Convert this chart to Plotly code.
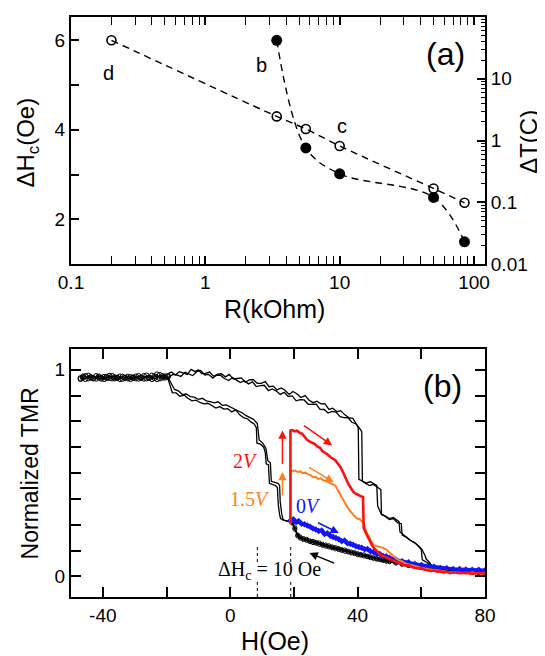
import plotly.graph_objects as go

# ---- panel (a) data ----
r_open = [0.2, 3.4, 5.6, 10, 50, 85]
dhc_open = [6.0, 4.30, 4.02, 3.64, 2.69, 2.37]
r_fill = [3.4, 5.6, 10, 50, 85]
dt_fill = [42, 0.76, 0.29, 0.12, 0.023]

r_ticks = [0.1, 1, 10, 100]
r_ticktext = ['0.1', '1', '10', '100']
r_minor = [0.2, 0.3, 0.4, 0.5, 0.6, 0.7, 0.8, 0.9, 2, 3, 4, 5, 6, 7, 8, 9,
           20, 30, 40, 50, 60, 70, 80, 90]
dt_ticks = [0.01, 0.1, 1, 10, 100]
dt_ticktext = ['0.01', '0.1', '1', '10', '100']
dt_minor = [0.02, 0.03, 0.04, 0.05, 0.06, 0.07, 0.08, 0.09, 0.2, 0.3, 0.4, 0.5, 0.6,
            0.7, 0.8, 0.9, 2, 3, 4, 5, 6, 7, 8, 9, 20, 30, 40, 50, 60, 70, 80, 90]
dhc_ticks = [1, 2, 3, 4, 5, 6]
dhc_ticktext = ['', '2', '', '4', '', '6']

# ---- panel (b) data ----
start_h = [-47, -46.2, -45.5, -44.6, -43.8, -43, -42.1, -41.3, -40.5, -39.6, -38.8, -38,
           -37.1, -36.3, -35.5, -34.6, -33.8, -33, -32.1, -31.3, -30.5, -29.6, -28.8,
           -28, -27.1, -26.3, -25.5, -24.6, -23.8, -23, -22.1, -21.3, -20.5, -19.6]
start_tmr1 = [0.96, 0.968, 0.955, 0.972, 0.962, 0.958, 0.97, 0.963, 0.957, 0.966, 0.96,
              0.971, 0.958, 0.964, 0.96, 0.955, 0.967, 0.962, 0.958, 0.965, 0.96, 0.968,
              0.957, 0.963, 0.97, 0.958, 0.962, 0.972, 0.96, 0.955, 0.975, 0.962, 0.968, 0.97]
start_tmr2 = [0.955, 0.962, 0.97, 0.958, 0.965, 0.96, 0.957, 0.968, 0.962, 0.955, 0.966,
              0.96, 0.97, 0.958, 0.962, 0.968, 0.956, 0.96, 0.967, 0.955, 0.963, 0.958,
              0.97, 0.96, 0.957, 0.973, 0.96, 0.955, 0.968, 0.978, 0.958, 0.97, 0.962, 0.965]

up1_h = [-19.6, -18.5, -17.2, -16, -14.8, -13.5, -12.3, -11, -10, -9, -7.8, -6.5, -5.2, -4,
         -2.8, -1.5, -0.3, 1, 2.2, 3.5, 4.7, 6, 7.2, 8.5, 9.7, 11, 12.2, 13.5, 14.7, 16,
         17.2, 18.5, 19.7, 21, 22.2, 23.5, 24.7, 26, 27.2, 28.5, 29.7, 31, 32.2, 33.5,
         34.7, 36, 37.2, 38.5, 39.5, 40.2, 40.4, 41.5, 42.7, 44, 45.2, 46, 46.3, 47.5,
         48.7, 50, 51.2, 52.5, 53, 53.3, 54.5, 55.7, 57, 58.2, 59.5, 60, 60.3, 61.5, 62.7,
         63.2, 64, 65.5, 67, 68.5, 70, 71.5, 73, 74.5, 76, 77.5, 79, 80]
up1_tmr = [0.98, 0.989, 0.975, 0.991, 0.985, 0.977, 1.002, 0.991, 1.0, 0.982, 0.983, 0.989,
           0.968, 0.979, 0.981, 0.966, 0.978, 0.955, 0.958, 0.961, 0.94, 0.951, 0.953,
           0.935, 0.934, 0.943, 0.918, 0.921, 0.903, 0.912, 0.901, 0.881, 0.895, 0.883,
           0.866, 0.875, 0.854, 0.841, 0.848, 0.835, 0.836, 0.808, 0.814, 0.797, 0.802,
           0.782, 0.769, 0.765, 0.74, 0.72, 0.47, 0.46, 0.452, 0.458, 0.445, 0.44, 0.34,
           0.3, 0.292, 0.28, 0.285, 0.27, 0.265, 0.215, 0.2, 0.185, 0.17, 0.16, 0.14, 0.13,
           0.08, 0.07, 0.06, 0.05, 0.04, 0.035, 0.03, 0.033, 0.027, 0.03, 0.025, 0.028,
           0.024, 0.027, 0.023, 0.025]

up2_h = [-19.6, -18, -16.8, -15.5, -14.2, -13, -11.8, -10.5, -9.3, -8, -6.8, -5.5, -4.3,
         -3, -1.8, -0.5, 0.7, 2, 3.2, 4.5, 5.7, 7, 8.2, 9.5, 10.7, 12, 13.2, 14.5, 15.7,
         17, 18.2, 19.5, 20.7, 22, 23.2, 24.5, 25.7, 27, 28.2, 29.5, 30.7, 32, 33.2, 34.5,
         35.7, 37, 38.2, 39.5, 40.7, 41.3, 41.5, 42.5, 43.7, 45, 46.2, 47.3, 47.5, 48.7,
         50, 51.2, 52.5, 53.7, 54, 55.2, 56.5, 57.7, 59, 60.2, 61.2, 61.5, 62.7, 63.5,
         64.5, 66, 67.5, 69, 70.5, 72, 73.5, 75, 76.5, 78, 80]
up2_tmr = [0.962, 0.978, 0.975, 0.968, 0.988, 0.979, 0.972, 0.991, 0.997, 0.975, 0.978,
           0.96, 0.974, 0.973, 0.958, 0.948, 0.963, 0.95, 0.938, 0.947, 0.932, 0.942,
           0.919, 0.923, 0.925, 0.899, 0.907, 0.897, 0.881, 0.891, 0.871, 0.874, 0.85,
           0.856, 0.854, 0.833, 0.833, 0.834, 0.809, 0.808, 0.791, 0.799, 0.795, 0.773,
           0.769, 0.768, 0.746, 0.738, 0.715, 0.7, 0.46, 0.45, 0.44, 0.445, 0.43, 0.42,
           0.3, 0.29, 0.275, 0.28, 0.26, 0.255, 0.2, 0.19, 0.175, 0.165, 0.15, 0.13, 0.1,
           0.085, 0.065, 0.045, 0.035, 0.03, 0.034, 0.026, 0.03, 0.024, 0.028, 0.022,
           0.026, 0.022, 0.024]

lo1_h = [-19.6, -19, -18.2, -17, -15.8, -14.5, -13.3, -12, -10.8, -9.5, -8.3, -7, -5.8,
         -4.5, -3.3, -2, -0.8, 0.5, 1.7, 3, 4.2, 5.5, 6.5, 7.5, 8.2, 8.4, 9.5, 10.5, 11,
         11.3, 12, 12.3, 13.2, 14.2, 14.8, 15.1, 15.5, 15.8, 16.7, 17.8, 18.9]
lo1_tmr = [0.96, 0.93, 0.89, 0.888, 0.872, 0.878, 0.862, 0.85, 0.853, 0.842, 0.835, 0.838,
           0.826, 0.815, 0.822, 0.81, 0.812, 0.796, 0.806, 0.782, 0.768, 0.762, 0.748,
           0.738, 0.72, 0.645, 0.64, 0.625, 0.6, 0.545, 0.54, 0.45, 0.445, 0.44, 0.43,
           0.345, 0.3, 0.28, 0.272, 0.27, 0.265]

lo2_h = [-19.6, -18.8, -17.5, -16.3, -15, -13.8, -12.5, -11.3, -10, -8.8, -7.5, -6.3, -5,
         -3.8, -2.5, -1.3, 0, 1.2, 2.5, 3.7, 5, 6.2, 7.3, 8.5, 8.9, 9.1, 10.2, 11.2, 11.8,
         12.6, 12.9, 14, 15, 15.5, 15.7, 16.2, 16.6, 17.5, 18.9]
lo2_tmr = [0.965, 0.94, 0.905, 0.898, 0.88, 0.883, 0.87, 0.868, 0.857, 0.862, 0.85, 0.846,
           0.84, 0.845, 0.828, 0.83, 0.82, 0.814, 0.8, 0.792, 0.778, 0.77, 0.76, 0.74, 0.7,
           0.66, 0.645, 0.62, 0.56, 0.55, 0.46, 0.455, 0.45, 0.44, 0.36, 0.3, 0.275,
           0.268, 0.262]

bot_h = [19.5, 20.3, 21.2, 22, 23, 24, 25, 26, 27, 28, 29, 30, 31, 32, 33, 34, 35, 36, 37,
         38, 39, 40, 41, 42, 43, 44, 45, 46, 47, 48, 49, 50, 52, 54, 56, 58, 60, 62, 64,
         66, 68, 70, 72, 74, 76, 78, 80]
bot1_tmr = [0.262, 0.235, 0.2, 0.19, 0.183, 0.18, 0.172, 0.17, 0.165, 0.162, 0.155, 0.152,
            0.148, 0.143, 0.14, 0.135, 0.13, 0.128, 0.122, 0.118, 0.115, 0.11, 0.106,
            0.104, 0.098, 0.095, 0.09, 0.087, 0.084, 0.08, 0.077, 0.074, 0.068, 0.062,
            0.055, 0.05, 0.045, 0.04, 0.036, 0.032, 0.03, 0.027, 0.025, 0.023, 0.022,
            0.02, 0.019]
bot2_tmr = [0.258, 0.228, 0.195, 0.185, 0.178, 0.174, 0.168, 0.163, 0.16, 0.155, 0.15,
            0.146, 0.142, 0.138, 0.133, 0.13, 0.125, 0.121, 0.118, 0.113, 0.11, 0.105,
            0.102, 0.098, 0.095, 0.09, 0.087, 0.083, 0.08, 0.077, 0.073, 0.07, 0.064,
            0.058, 0.052, 0.047, 0.042, 0.038, 0.034, 0.03, 0.028, 0.025, 0.023, 0.021,
            0.02, 0.018, 0.018]

blue_h = [18.9, 19.8, 20.7, 21.5, 22.4, 23.3, 24.2, 25.1, 26, 26.9, 27.8, 28.7, 29.6,
          30.5, 31.4, 32.3, 33.2, 34.1, 35, 35.9, 36.8, 37.7, 38.6, 39.5, 40.4, 41.3,
          42.2, 43.1, 44, 45, 46, 47, 48, 49, 50, 52, 54, 56, 58, 60, 62, 64, 66, 68, 70,
          72, 74, 76, 78, 80]
blue_tmr = [0.27, 0.276, 0.262, 0.268, 0.255, 0.252, 0.246, 0.24, 0.232, 0.227, 0.219,
            0.222, 0.205, 0.209, 0.196, 0.19, 0.186, 0.18, 0.17, 0.174, 0.16, 0.158,
            0.153, 0.146, 0.142, 0.139, 0.131, 0.133, 0.122, 0.118, 0.11, 0.108, 0.098,
            0.097, 0.09, 0.081, 0.073, 0.068, 0.06, 0.055, 0.05, 0.046, 0.041, 0.039,
            0.036, 0.035, 0.033, 0.032, 0.032, 0.03]

red_h = [18.9, 18.9, 19.5, 20.2, 21, 21.8, 22.6, 23.4, 24.2, 25, 25.8, 26.6, 27.4, 28.2,
         29, 29.8, 30.6, 31.4, 32.2, 33, 33.8, 34.6, 35.4, 36.2, 37, 37.8, 38.6, 39.4,
         40.2, 41, 41.7, 41.9, 42.6, 43.3, 44, 44.7, 45.5, 46.3, 47.1, 48, 49, 50, 51,
         52, 53, 54, 55, 56, 57, 58, 59, 60, 61, 62, 63, 64, 65, 66, 67, 68, 69, 70, 72,
         74, 76, 78, 80]
red_tmr = [0.255, 0.706, 0.708, 0.702, 0.705, 0.695, 0.69, 0.672, 0.66, 0.652, 0.645,
           0.64, 0.628, 0.622, 0.605, 0.598, 0.59, 0.578, 0.572, 0.562, 0.545, 0.53,
           0.505, 0.475, 0.45, 0.43, 0.41, 0.4, 0.393, 0.388, 0.384, 0.235, 0.21, 0.19,
           0.165, 0.145, 0.13, 0.12, 0.105, 0.098, 0.09, 0.082, 0.075, 0.07, 0.065, 0.06,
           0.052, 0.055, 0.045, 0.042, 0.038, 0.04, 0.032, 0.03, 0.026, 0.028, 0.022,
           0.025, 0.018, 0.022, 0.016, 0.02, 0.015, 0.018, 0.012, 0.016, 0.012]

orange_h = [18.9, 18.9, 19.6, 20.4, 21.2, 22, 22.8, 23.6, 24.4, 25.2, 26, 26.8, 27.6,
            28.4, 29.2, 30, 30.8, 31.6, 32.4, 33, 33.5, 34.2, 35, 35.8, 36.6, 37.4, 38.2,
            39, 39.8, 40.6, 41.4, 42, 42.6, 43.2, 44, 44.8, 45.6, 46.4, 47.2, 48, 49, 50,
            51, 52, 53, 54, 55, 56, 58, 60, 62, 64, 66, 68, 70, 72, 74, 76, 78, 80]
orange_tmr = [0.255, 0.513, 0.51, 0.512, 0.505, 0.508, 0.5, 0.502, 0.495, 0.49, 0.48,
              0.482, 0.472, 0.475, 0.465, 0.462, 0.455, 0.45, 0.445, 0.44, 0.425, 0.405,
              0.38, 0.36, 0.34, 0.322, 0.305, 0.292, 0.28, 0.278, 0.265, 0.255, 0.22,
              0.2, 0.175, 0.155, 0.148, 0.145, 0.14, 0.138, 0.13, 0.115, 0.1, 0.088,
              0.078, 0.072, 0.062, 0.058, 0.048, 0.042, 0.036, 0.03, 0.027, 0.022, 0.02,
              0.018, 0.016, 0.018, 0.015, 0.016]

h_ticks = [-40, -20, 0, 20, 40, 60, 80]
h_ticktext = ['-40', '', '0', '', '40', '', '80']
tmr_ticks = [0, 0.125, 0.25, 0.375, 0.5, 0.625, 0.75, 0.875, 1]
tmr_ticktext = ['0', '', '', '', '', '', '', '', '1']
dhc_lines = [8.5, 19.0]

RED = '#ff1010'
ORANGE = '#ff7f1e'
BLUE = '#1414ff'
SANS = 'Liberation Sans, Arial, sans-serif'
SERIF = 'Liberation Serif, Times New Roman, serif'

fig = go.Figure()

# panel (a)
fig.add_trace(go.Scatter(x=r_open, y=dhc_open, mode='lines+markers', xaxis='x', yaxis='y',
                         line=dict(color='black', width=1.4, dash='7px,5px', shape='spline'),
                         marker=dict(symbol='circle-open', size=9, color='black',
                                     line=dict(width=1.6))))
fig.add_trace(go.Scatter(x=r_fill, y=dt_fill, mode='lines+markers', xaxis='x', yaxis='y2',
                         line=dict(color='black', width=1.4, dash='7px,5px', shape='spline'),
                         marker=dict(symbol='circle', size=11, color='black')))


# panel (b)
def add_b(x, y, color, width, **kw):
    fig.add_trace(go.Scatter(x=x, y=y, xaxis='x2', yaxis='y3',
                             line=dict(color=color, width=width), **kw))


for tmr in (start_tmr1, start_tmr2):
    add_b(start_h, tmr, 'black', 1, mode='lines+markers',
          marker=dict(symbol='circle-open', size=5, color='black', line=dict(width=1)))
add_b(up1_h, up1_tmr, 'black', 1.3, mode='lines')
add_b(up2_h, up2_tmr, 'black', 1.3, mode='lines')
add_b(lo1_h, lo1_tmr, 'black', 1.3, mode='lines')
add_b(lo2_h, lo2_tmr, 'black', 1.3, mode='lines')
for tmr in (bot1_tmr, bot2_tmr):
    add_b(bot_h, tmr, 'black', 1.5, mode='lines+markers',
          marker=dict(symbol='circle-open', size=4, color='black', line=dict(width=1)))
add_b(blue_h, blue_tmr, BLUE, 3.5, mode='lines+markers',
      marker=dict(symbol='diamond', size=5, color=BLUE))
add_b(orange_h, orange_tmr, ORANGE, 2, mode='lines')
add_b(red_h, red_tmr, RED, 2.6, mode='lines')

for hx in dhc_lines:
    add_b([hx, hx], [0.142, 0.066], 'black', 1, mode='lines')
    add_b([hx, hx], [-0.027, -0.1], 'black', 1, mode='lines')
for tr in fig.data[-4:]:
    tr.line.dash = 'dot'

axis_common = dict(showline=True, linecolor='black', linewidth=2, ticks='inside',
                   tickcolor='black', tickwidth=1.5, showgrid=False, zeroline=False,
                   tickfont=dict(family=SANS, size=19, color='black'))
minor_common = dict(ticks='inside', ticklen=4, tickcolor='black', tickwidth=1.3,
                    showgrid=False)

fig.update_layout(
    width=537, height=648, showlegend=False,
    paper_bgcolor='white', plot_bgcolor='white',
    margin=dict(l=63, r=60, t=7, b=59),
    font=dict(family=SANS, color='black'),
    xaxis=dict(axis_common, domain=[0, 1], anchor='y', type='log', range=[-1, 2.082],
               mirror='allticks', ticklen=8, tickvals=r_ticks, ticktext=r_ticktext,
               minor=dict(minor_common, tickvals=r_minor)),
    yaxis=dict(axis_common, domain=[0.5739, 1], anchor='x', range=[1, 6.52],
               tickvals=dhc_ticks, ticktext=dhc_ticktext, ticklen=8, ticksuffix=' '),
    yaxis2=dict(axis_common, overlaying='y', side='right', anchor='x', type='log',
                range=[-2, 2], tickvals=dt_ticks, ticktext=dt_ticktext, ticklen=8,
                tickprefix=' ', minor=dict(minor_common, tickvals=dt_minor)),
    xaxis2=dict(axis_common, domain=[0, 1], anchor='y3', range=[-50, 80],
                mirror='allticks', ticklen=10, tickvals=h_ticks, ticktext=h_ticktext),
    yaxis3=dict(axis_common, domain=[0, 0.4273], anchor='x2', range=[-0.1, 1.1],
                mirror='allticks', ticklen=10, tickvals=tmr_ticks, ticktext=tmr_ticktext,
                ticksuffix=' '),
)

ann = []
mid = dict(xref='paper', yref='paper', showarrow=False, xanchor='center', yanchor='middle')
# axis titles
ann.append(dict(mid, text='R(kOhm)', x=0.4915, y=0.4966, font=dict(size=25)))
ann.append(dict(mid, text='ΔH<sub>c</sub>(Oe)', x=-0.105, y=0.7826, textangle=-90,
                font=dict(size=24)))
ann.append(dict(mid, text='ΔT(C)', x=1.105, y=0.7856, textangle=-90, font=dict(size=24)))
ann.append(dict(mid, text='Normalized TMR', x=-0.0998, y=0.2125, textangle=-90,
                font=dict(size=23)))
ann.append(dict(mid, text='H(Oe)', x=0.492, y=-0.0755, font=dict(size=25)))
# panel (a) labels
ann.append(dict(text='(a)', x=1.785, y=5.70, xref='x', yref='y', showarrow=False,
                font=dict(size=32)))
ann.append(dict(text='d', x=-0.723, y=5.26, xref='x', yref='y', showarrow=False,
                font=dict(size=20)))
ann.append(dict(text='b', x=0.417, y=5.44, xref='x', yref='y', showarrow=False,
                font=dict(size=20)))
ann.append(dict(text='c', x=1.021, y=4.09, xref='x', yref='y', showarrow=False,
                font=dict(size=20)))
# panel (b) labels
ann.append(dict(text='(b)', x=66.8, y=0.924, xref='x2', yref='y3', showarrow=False,
                font=dict(size=32)))
ann.append(dict(text='2<i>V</i>', x=4.7, y=0.56, xref='x2', yref='y3', showarrow=False,
                font=dict(family=SERIF, size=20, color=RED)))
ann.append(dict(text='1.5<i>V</i>', x=6.3, y=0.376, xref='x2', yref='y3', showarrow=False,
                font=dict(family=SERIF, size=20, color=ORANGE)))
ann.append(dict(text='0<i>V</i>', x=24.7, y=0.343, xref='x2', yref='y3', showarrow=False,
                font=dict(family=SERIF, size=20, color=BLUE)))
ann.append(dict(text='ΔH<sub>c</sub> = 10 Oe', x=12.3, y=0.029, xref='x2', yref='y3',
                showarrow=False, font=dict(family=SERIF, size=20, color='black')))

# arrows (tail -> head)
arrows = [
    (16.4, 0.537, 16.4, 0.706, RED),
    (16.4, 0.384, 16.4, 0.505, ORANGE),
    (22.7, 0.735, 32.0, 0.634, RED),
    (24.3, 0.532, 32.5, 0.456, ORANGE),
    (27.1, 0.263, 34.1, 0.21, BLUE),
    (33.1, 0.061, 24.9, 0.113, 'black'),
]
for tx, ty, hx, hy, col in arrows:
    ann.append(dict(x=hx, y=hy, ax=tx, ay=ty, xref='x2', yref='y3', axref='x2',
                    ayref='y3', showarrow=True, arrowhead=2, arrowsize=1.1,
                    arrowwidth=1.5, arrowcolor=col, text=''))

fig.update_layout(annotations=ann)
fig.write_html("out.html")
